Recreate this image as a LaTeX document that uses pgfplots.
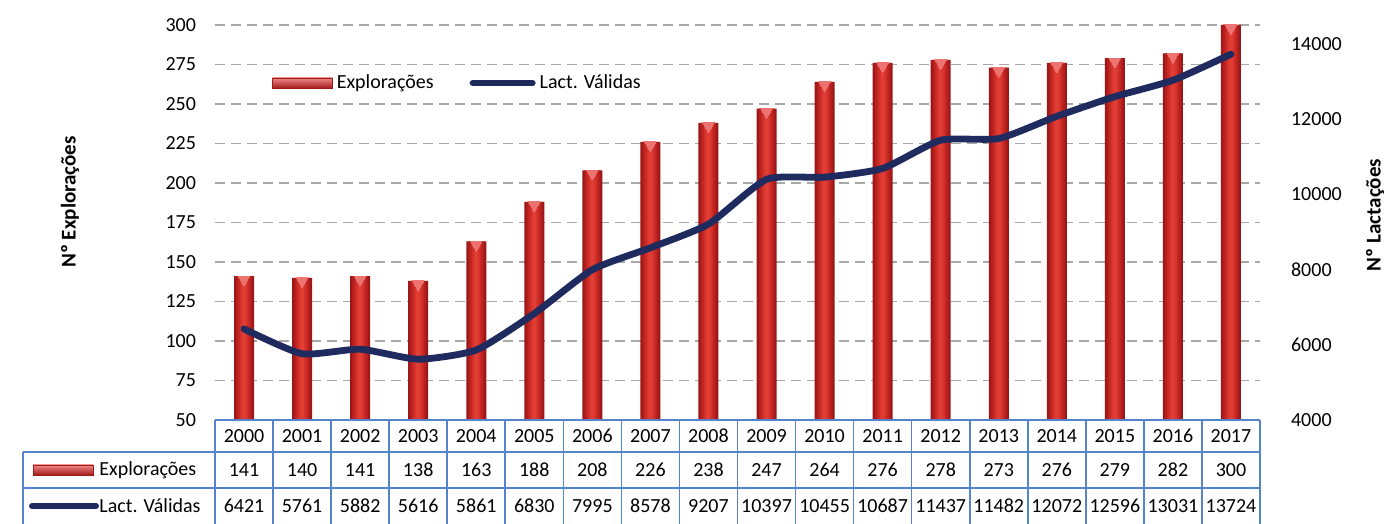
\documentclass[border=0pt]{standalone}
\usepackage{pgfplots}
\usepackage{pgfplotstable}
\pgfplotsset{compat=1.18}
\usepackage{fontspec}
\setmainfont{Carlito}
\definecolor{barred}{HTML}{DC3A32}
\definecolor{bardark}{HTML}{A11A1A}
\definecolor{barpink}{HTML}{F08A8A}
\definecolor{navy}{HTML}{1F2A5E}
\definecolor{tblue}{HTML}{5485CC}
\definecolor{gridgray}{HTML}{A8A8A8}
\definecolor{b1}{HTML}{9C1717}
\definecolor{b2}{HTML}{B21F1D}
\definecolor{b3}{HTML}{C52824}
\definecolor{b4}{HTML}{D5322C}
\definecolor{b5}{HTML}{E03D35}
\definecolor{tri}{HTML}{EC7370}

\pgfplotstableread{
x year expl lact
0 2000 141 6421
1 2001 140 5761
2 2002 141 5882
3 2003 138 5616
4 2004 163 5861
5 2005 188 6830
6 2006 208 7995
7 2007 226 8578
8 2008 238 9207
9 2009 247 10397
10 2010 264 10455
11 2011 276 10687
12 2012 278 11437
13 2013 273 11482
14 2014 276 12072
15 2015 279 12596
16 2016 282 13031
17 2017 300 13724
}\data

\newcommand{\tf}{\fontsize{10}{12}\selectfont}

\begin{document}
\begin{tikzpicture}[x=1pt,y=1pt]
\useasboundingbox (0,0) rectangle (693,262);
\pgfplotsset{
  common/.style={
    at={(107.5pt,52pt)}, anchor=south west, scale only axis,
    width=522.5pt, height=197.5pt,
    xmin=-0.5, xmax=17.5,
    xtick=\empty,
    axis line style={draw=none},
    major tick length=0pt,
    tick label style={font=\tf},
    scaled y ticks=false,
    /pgf/number format/assume math mode=true,
    /pgf/number format/1000 sep={},
  }
}
\begin{axis}[common,
  ymin=50, ymax=300, ytick={50,75,...,300},
  ymajorgrids,
  major grid style={gridgray, line width=0.9pt, dash pattern=on 5pt off 3pt},
  yticklabel style={xshift=-6pt},
]
\addplot[ybar, bar width=10pt, fill=b1, draw=none] table[x=x, y=expl] {\data};
\addplot[ybar, bar width=8pt, fill=b2, draw=none] table[x=x, y=expl] {\data};
\addplot[ybar, bar width=6pt, fill=b3, draw=none] table[x=x, y=expl] {\data};
\addplot[ybar, bar width=4pt, fill=b4, draw=none] table[x=x, y=expl] {\data};
\addplot[ybar, bar width=2pt, fill=b5, draw=none] table[x=x, y=expl] {\data};
\addplot[only marks, color=tri, mark=triangle*, mark size=3.2pt,
  mark options={rotate=180, yshift=1.6pt, fill=tri, draw=tri, line width=0pt}]
  table[x=x, y=expl] {\data};
\end{axis}

\begin{axis}[common,
  axis y line*=right, axis x line=none,
  ymin=4000, ymax=14500, ytick={4000,6000,...,14000},
  yticklabel style={anchor=west, xshift=12pt},
  legend style={at={(0.233,0.853)}, anchor=center, draw=none, fill=none,
    font=\tf, legend columns=2, /tikz/every even column/.append style={column sep=16pt}},
]
\addlegendimage{legend image code/.code={\draw[draw=bardark, line width=0.3pt, top color=barpink, bottom color=bardark] (0pt,-2.6pt) rectangle (30pt,2.6pt);}}
\addlegendentry{Explorações}
\addplot[navy, line width=3.4pt, smooth, tension=0.35, line cap=round,
  legend image code/.code={\draw[navy, line width=3pt, line cap=round] (0pt,0pt) -- (30pt,0pt);}]
  table[x=x, y=lact] {\data};
\addlegendentry{Lact. Válidas}
\end{axis}

% axis titles
\node[rotate=90, font=\fontsize{10.5}{12}\selectfont\bfseries] at (35,161) {Nº Explorações};
\node[rotate=90, font=\fontsize{10.5}{12}\selectfont\bfseries] at (687.5,154.5) {Nº Lactações};

% data table
\def\xl{107.5}
\def\cw{29.0278}
\begin{scope}[tblue, line width=0.8pt]
  \draw (\xl,52) -- (630,52);
  \draw (11.5,36) -- (630,36);
  \draw (11.5,18) -- (630,18);
  \draw (11.5,0) -- (11.5,36);
  \foreach \i in {0,...,18} { \draw (\xl+\cw*\i,0) -- (\xl+\cw*\i,52); }
\end{scope}
\foreach \i in {0,...,17} {
  \pgfplotstablegetelem{\i}{year}\of\data \edef\yr{\pgfplotsretval}
  \pgfplotstablegetelem{\i}{expl}\of\data \edef\ex{\pgfplotsretval}
  \pgfplotstablegetelem{\i}{lact}\of\data \edef\la{\pgfplotsretval}
  \node[font=\tf, inner sep=0pt] at (\xl+\cw*\i+\cw/2,44) {\yr};
  \node[font=\tf, inner sep=0pt] at (\xl+\cw*\i+\cw/2,27) {\ex};
  \node[font=\tf, inner sep=0pt] at (\xl+\cw*\i+\cw/2,9) {\la};
}
\draw[draw=bardark, line width=0.3pt, top color=barpink, bottom color=bardark] (16.5,24.5) rectangle (46.5,29.5);
\node[font=\tf, anchor=west, inner sep=0pt] at (49.5,27) {Explorações};
\draw[navy, line width=3pt, line cap=round] (16,9) -- (48,9);
\node[font=\tf, anchor=west, inner sep=0pt] at (49.5,9) {Lact. Válidas};
\end{tikzpicture}
\end{document}
